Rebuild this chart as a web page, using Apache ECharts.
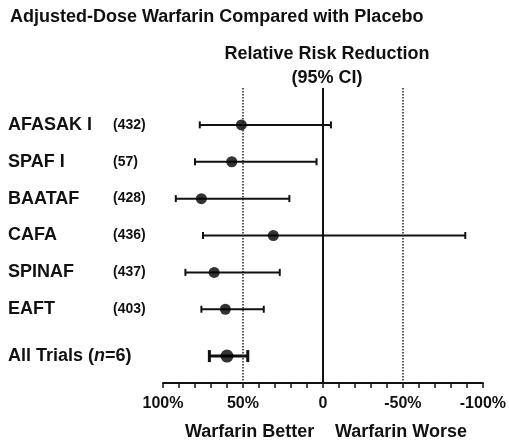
<!DOCTYPE html>
<html>
<head>
<meta charset="utf-8">
<script src="https://cdn.jsdelivr.net/npm/echarts@6/dist/echarts.min.js"></script>
<style>
  html, body { margin: 0; padding: 0; background: #fff; }
  #chart { width: 509px; height: 445px; }
</style>
</head>
<body>
<div id="chart"></div>
<script>
// trials, top to bottom
var studies = ['AFASAK I', 'SPAF I', 'BAATAF', 'CAFA', 'SPINAF', 'EAFT', 'All Trials']
var patients = ['(432)', '(57)', '(428)', '(436)', '(437)', '(403)', '']
var rowPos = [0, 1, 2, 3, 4, 5, 6.27]
// relative risk reduction (%) and 95% CI ends
var rrr = [51, 57, 76, 31, 68, 61, 60]
var ciBetter = [77, 80, 92, 75, 86, 76, 71]
var ciWorse = [-5, 4, 21, -89, 27, 37, 47]
var tickVals = [100, 50, 0, -50, -100]
var tickLabels = ['100%', '50%', '0', '-50%', '-100%']

var font = 'Liberation Sans, Arial, sans-serif'

var barData = studies.map(function (s, i) {
  return [ciBetter[i], ciWorse[i], rowPos[i], i]
})
var pointData = studies.map(function (s, i) {
  return {
    value: [rrr[i], rowPos[i]],
    symbolSize: i === studies.length - 1 ? 13 : 11
  }
})

function renderBar (params, api) {
  var idx = api.value(3)
  var a = api.coord([api.value(0), api.value(2)])
  var b = api.coord([api.value(1), api.value(2)])
  var all = idx === studies.length - 1
  var h = all ? 6 : 3.5
  var lw = all ? 3 : 2
  var st = { stroke: '#111', lineWidth: lw }
  var kids = [
    { type: 'line', shape: { x1: a[0], y1: a[1], x2: b[0], y2: b[1] }, style: st },
    { type: 'line', shape: { x1: a[0], y1: a[1] - h, x2: a[0], y2: a[1] + h }, style: st },
    { type: 'line', shape: { x1: b[0], y1: b[1] - h, x2: b[0], y2: b[1] + h }, style: st }
  ]
  if (all) {
    kids.push({
      type: 'text',
      style: {
        x: 8, y: a[1], text: '{a|All Trials (}{i|n}{a|=6)}',
        verticalAlign: 'middle',
        rich: {
          a: { fontSize: 18, fontWeight: 'bold', fontFamily: font, fill: '#111' },
          i: { fontSize: 18, fontWeight: 'bold', fontStyle: 'italic', fontFamily: font, fill: '#111' }
        }
      }
    })
  } else {
    kids.push({
      type: 'text',
      style: { x: 8, y: a[1], text: studies[idx], verticalAlign: 'middle',
        fontSize: 18, fontWeight: 'bold', fontFamily: font, fill: '#111' }
    })
    kids.push({
      type: 'text',
      style: { x: 113, y: a[1], text: patients[idx], verticalAlign: 'middle',
        fontSize: 14, fontWeight: 'bold', fontFamily: font, fill: '#111' }
    })
  }
  return { type: 'group', children: kids }
}

var chart = echarts.init(document.getElementById('chart'))
chart.setOption({
  animation: false,
  backgroundColor: '#fff',
  textStyle: { fontFamily: font },
  title: [
    {
      text: 'Adjusted-Dose Warfarin Compared with Placebo',
      left: 5, top: 3,
      textStyle: { fontSize: 18, fontWeight: 'bold', color: '#111', fontFamily: font }
    },
    {
      text: 'Relative Risk Reduction\n(95% CI)',
      left: 322, top: 37, textAlign: 'center',
      textStyle: { fontSize: 18, fontWeight: 'bold', color: '#111', lineHeight: 24, fontFamily: font }
    }
  ],
  graphic: [
    { type: 'text', left: 185, top: 423,
      style: { text: 'Warfarin Better', fontSize: 18, fontWeight: 'bold', fill: '#111', fontFamily: font } },
    { type: 'text', left: 335, top: 423,
      style: { text: 'Warfarin Worse', fontSize: 18, fontWeight: 'bold', fill: '#111', fontFamily: font } }
  ],
  grid: { left: 163, right: 25, top: 88, bottom: 62 },
  xAxis: {
    type: 'value',
    inverse: true,
    min: -100,
    max: 100,
    interval: 10,
    splitLine: { show: false },
    axisLine: { onZero: false, lineStyle: { color: '#111', width: 2 } },
    axisTick: { length: 5, lineStyle: { color: '#111', width: 1.5 } },
    axisLabel: {
      margin: 13,
      fontSize: 16,
      fontWeight: 'bold',
      color: '#111',
      fontFamily: font,
      formatter: function (v) {
        var k = tickVals.indexOf(v)
        return k < 0 ? '' : tickLabels[k]
      }
    }
  },
  yAxis: {
    type: 'value',
    inverse: true,
    min: -1,
    max: 7,
    show: false
  },
  series: [
    {
      type: 'custom',
      clip: false,
      renderItem: renderBar,
      encode: { x: [0, 1], y: 2 },
      data: barData,
      z: 3
    },
    {
      type: 'scatter',
      symbol: 'circle',
      itemStyle: { color: '#000' },
      data: pointData,
      z: 4,
      markLine: {
        silent: true,
        symbol: 'none',
        label: { show: false },
        data: [
          { xAxis: 0, lineStyle: { type: 'solid', width: 2, color: '#111' } },
          { xAxis: 50, lineStyle: { type: 'dotted', width: 1.5, color: '#222' } },
          { xAxis: -50, lineStyle: { type: 'dotted', width: 1.5, color: '#222' } }
        ]
      }
    }
  ]
})
</script>
</body>
</html>
